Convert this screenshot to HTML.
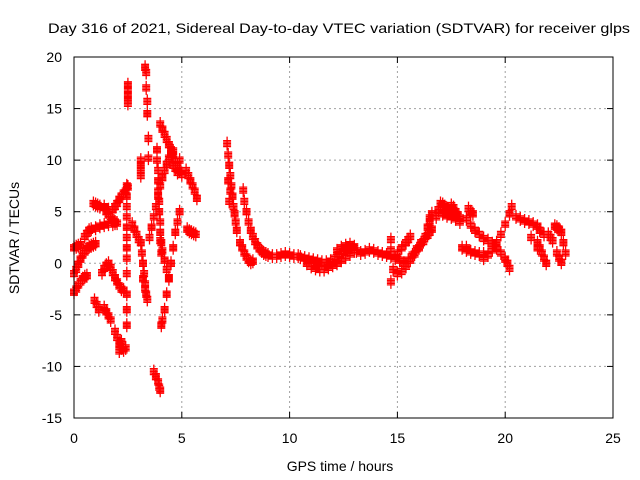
<!DOCTYPE html>
<html><head><meta charset="utf-8"><style>
html,body{margin:0;padding:0;background:#fff;}
svg{display:block;font-family:"Liberation Sans",sans-serif;}
</style></head><body>
<svg id="chart" width="640" height="480" viewBox="0 0 640 480" xmlns="http://www.w3.org/2000/svg">
<rect x="0" y="0" width="640" height="480" fill="#fff"/>
<text x="339" y="33" text-anchor="middle" font-size="14" textLength="582" lengthAdjust="spacingAndGlyphs">Day 316 of 2021, Sidereal Day-to-day VTEC variation (SDTVAR) for receiver glps</text>
<g id="grid"></g>
<g id="axes"></g>
<g id="marks"></g>
<rect x="74" y="57" width="539" height="361" fill="none" stroke="#000" stroke-width="1"/>
<text x="340" y="471" text-anchor="middle" font-size="14">GPS time / hours</text>
<text transform="translate(19,238) rotate(-90)" text-anchor="middle" font-size="14">SDTVAR / TECUs</text>
</svg>
<script>
const xTicks=[0,5,10,15,20,25];
const yTicks=[-15,-10,-5,0,5,10,15,20];
const hours=[
[0,0.1,0.2,0.3,0.4,0.5,0.6],
[0,0.1,0.2,0.3,0.4,0.5,0.6,0.7,0.8,0.9,1.0],
[0,0.1,0.2,0.3],
[0.5,0.6,0.7,0.8,1.0,1.2,1.4,1.6,1.8,1.9],
[0.9,1.0,1.1,1.2,1.4,1.6,1.8,1.9,2.0,2.1,2.2,2.3,2.4,2.5],
[1.4,1.5,1.6,1.7,1.8,1.9,2.0],
[1.3,1.4,1.5,1.6,1.7,1.8,1.9,2.0,2.1,2.2,2.3],
[0.95,1.05,1.15,1.4,1.5,1.6,1.7],
[1.9,2.0,2.1,2.2,2.3,2.4,2.2,2.1],
[2.45,2.45,2.45,2.45,2.45,2.45,2.45,2.45,2.45,2.45,2.45,2.45,2.5,2.5,2.5,2.5,2.5],
[3.3,3.35,3.35,3.4,3.4,3.45,3.45,3.1,3.1,3.1,3.1],
[2.7,2.8,2.9,3.0],
[3.1,3.15,3.2,3.25,3.3,3.35,3.4,3.3,3.2],
[3.5,3.6,3.7,3.8,3.9,4.0,4.1,4.2,4.3,4.4,4.5,4.6],
[4.0,4.1,4.2,4.3,4.4,4.5,4.6,4.7,4.8,4.9,5.0,4.6,4.7,4.8,4.9],
[3.85,3.85,3.9,3.9,3.9,3.95,3.95,4.0,4.0,4.05,4.05],
[4.0,4.1,4.2,4.3,4.4],
[4.9,4.8,4.7,4.6,4.5,4.4,4.3,4.2,4.1,4.05],
[3.7,3.8,3.9,3.95,4.0],
[5.2,5.3,5.4,5.5,5.6,5.7],
[5.25,5.35,5.45,5.55,5.65],
[7.1,7.15,7.2,7.25,7.3,7.35,7.4,7.45,7.5,7.55,7.2,7.25,7.15],
[7.85,7.9,8.0,8.1,8.2,8.3,8.4,8.5,8.6,8.7,8.8,8.9,9.0,9.2,9.4,9.6,9.8,10.0,10.2,10.4],
[7.7,7.8,7.9,8.0,8.1,8.2,8.3],
[10.5,10.7,10.9,11.1,11.3,11.5,11.7,11.9,12.1,12.3,12.5,12.7,12.9,13.1,13.3,13.5,13.7,13.9,14.1,14.3,14.5,14.7],
[10.8,11.0,11.2,11.4,11.6,11.8,12.0,12.2,12.4,12.6,12.8,13.0],
[12.2,12.4,12.6,12.8,13.0],
[14.8,15.0,15.2,15.4,15.6,15.8,16.0,16.2,16.4,16.6],
[14.9,15.1,15.3,15.5,15.7,15.9,16.1,16.3,16.5],
[15.0,15.2,15.4,15.5,15.6],
[14.7,14.7,14.7],
[16.4,16.5,16.5,16.6],
[16.8,16.9,17.0,17.1,17.2,17.3,17.4,17.5,17.6,17.7,17.8,17.9,17.1,17.3,17.5,17.7,17.9],
[18.2,18.4,18.6,18.8,19.0,19.2,19.4,19.6,19.8,20.0,20.1,20.2],
[19.0,19.2,19.4,19.6,19.8,20.0,20.2,20.3],
[18.0,18.2,18.4,18.6,18.8,19.0],
[18.3,18.4,18.5,18.2],
[20.5,20.7,20.9,21.1,21.3,21.5,21.6,21.8,21.2,21.5],
[21.5,21.6,21.7,21.8,21.9],
[22.0,22.1,22.2],
[22.3,22.4,22.5,22.6,22.7,22.8,22.4,22.5,22.6]
];
const tecu=[
[-2.8,-2.5,-2.1,-1.8,-1.5,-1.3,-1.2],
[-1,-0.6,-0.1,0.4,0.8,1.1,1.4,1.6,1.7,1.8,1.9],
[1.5,1.6,1.7,1.8],
[2.6,2.9,3.2,3.3,3.4,3.6,3.7,3.8,3.8,3.9],
[5.8,5.7,5.6,5.5,5.4,5.2,5.2,5.5,5.8,6.2,6.5,6.8,7.0,7.4],
[5.5,5.0,4.7,4.4,4.2,4.0,3.9],
[-0.9,-0.5,-0.2,0,-0.4,-0.9,-1.4,-1.8,-2.2,-2.5,-2.6],
[-3.6,-4.0,-4.5,-4.3,-4.7,-5.1,-5.5],
[-6.6,-7.2,-7.8,-8.2,-8.4,-8.2,-7.6,-8.5],
[7.5,6.5,5.5,4.5,3.5,2.5,1.5,0.5,-1,-3,-4.5,-6,17.3,16.8,16.3,15.8,15.5],
[19,18.5,17,15.7,14.5,12.1,10.2,10,9.5,9,8.5],
[3.8,3.3,2.8,2.3],
[2,1,0,-1,-2,-3,-3.5,-2.5,-1.5],
[2.5,3.5,4.5,5.5,6.5,7.5,8.3,9.0,9.6,10.2,10.6,10.9],
[13.5,13,12.5,12,11.5,11,10.5,10,9.5,9.0,8.6,9.5,9.2,8.8,10.0],
[11,10,9,8,7,6,5,4,3,2,1],
[2.2,1.2,0.3,-0.6,-1.4],
[5.0,4.0,3.0,1.5,0,-1.5,-3,-4.5,-5.5,-6.0],
[-10.5,-11,-11.5,-12,-12.3],
[9,8.5,8,7.5,7,6.3],
[3.3,3.1,3.0,2.9,2.8],
[11.6,10.5,9.5,8.5,7.5,6.5,5.5,4.8,4.0,3.2,6,7,8],
[7.1,6.0,5.0,4.0,3.2,2.6,2.1,1.7,1.4,1.2,1.0,0.9,0.8,0.7,0.7,0.8,0.9,0.8,0.7,0.7],
[2,1.5,1.0,0.6,0.3,0.1,0.2],
[0.6,0.5,0.4,0.3,0.2,0.1,0.1,0.2,0.5,0.8,1.1,1.3,1.5,1.2,1.0,1.1,1.3,1.2,1.0,0.9,0.8,0.7],
[0,-0.3,-0.5,-0.6,-0.6,-0.4,-0.2,0,0.3,0.6,0.9,1.2],
[1.2,1.5,1.7,1.8,1.6],
[-0.6,-1.0,-0.8,-0.3,0.3,0.9,1.5,2.1,2.7,3.3],
[0.5,0.3,0,0.3,0.8,1.4,2.0,2.6,3.0],
[1,1.5,2,2.3,2.6],
[2.3,1.3,-1.8],
[3.5,4,4.4,4.8],
[4.5,5.2,5.8,5.7,5.5,5.3,5.1,5.6,5.4,5.0,4.7,4.4,4.8,4.6,4.5,4.3,4.0],
[4.3,3.7,3.2,2.8,2.4,2.2,1.9,1.5,1.0,0.4,0,-0.5],
[0.5,0.8,1.3,2,2.8,3.8,4.8,5.5],
[1.5,1.3,1.1,1.0,0.9,0.9],
[5.3,5,4.8,1.5],
[4.5,4.3,4.1,4.0,3.8,3.6,3.2,2.8,2.5,1.5],
[2,1.5,1,0.5,0],
[2.8,2.5,2.2],
[3.6,3.5,3.3,3.0,2.0,1.0,1.0,0.5,0.1]
];
const NS='http://www.w3.org/2000/svg';
const X0=74,X1=613,Y0=418,Y1=57,xMin=0,xMax=25,yMin=-15,yMax=20;
function sx(v){return X0+(v-xMin)/(xMax-xMin)*(X1-X0);}
function sy(v){return Y0-(v-yMin)/(yMax-yMin)*(Y0-Y1);}
function mk(tag,attrs,parent){const e=document.createElementNS(NS,tag);for(const k in attrs)e.setAttribute(k,attrs[k]);parent.appendChild(e);return e;}
const grid=document.getElementById('grid'),axes=document.getElementById('axes'),marks=document.getElementById('marks');
xTicks.forEach(t=>{
  const x=sx(t);
  if(t>xMin&&t<xMax){const g=mk('line',{x1:x,y1:Y0,x2:x,y2:Y1,stroke:'#a0a0a0','stroke-dasharray':'2,3'},grid);
  
  }
  mk('line',{x1:x,y1:Y0,x2:x,y2:Y0-6,stroke:'#000'},axes);
  mk('line',{x1:x,y1:Y1,x2:x,y2:Y1+6,stroke:'#000'},axes);
  const l=mk('text',{x:x,y:443,'text-anchor':'middle','font-size':'14'},axes);
  l.textContent=t;
  
  
});
yTicks.forEach(t=>{
  const y=sy(t);
  if(t>yMin&&t<yMax){const g=mk('line',{x1:X0,y1:y,x2:X1,y2:y,stroke:'#a0a0a0','stroke-dasharray':'2,3'},grid);
  
  }
  mk('line',{x1:X0,y1:y,x2:X0+6,y2:y,stroke:'#000'},axes);
  mk('line',{x1:X1,y1:y,x2:X1-6,y2:y,stroke:'#000'},axes);
  const l=mk('text',{x:62,y:y+5,'text-anchor':'end','font-size':'14'},axes);
  l.textContent=t;
  
  
});
let d='';
hours.forEach((ts,i)=>{ts.forEach((t,j)=>{
  const x=sx(t),y=sy(tecu[i][j]);
  for(let k=-2;k<=2;k++){const yy=y+k*1.5;
    d+=`M${(x-4).toFixed(1)} ${yy.toFixed(1)}h8M${x.toFixed(1)} ${(yy-4).toFixed(1)}v8`;}
});});
const p=mk('path',{d:d,stroke:'#ff0000','stroke-width':'1.3',fill:'none'},marks);


</script>
</body></html>
